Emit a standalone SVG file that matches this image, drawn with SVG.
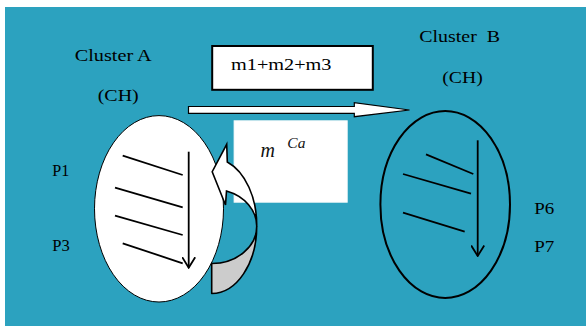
<svg xmlns="http://www.w3.org/2000/svg" width="586" height="326" viewBox="0 0 586 326">
<style>
.t{font-family:"Liberation Serif","Times New Roman",serif;font-size:17px;fill:#000}
.i{font-family:"Liberation Serif","Times New Roman",serif;font-style:italic;fill:#111}
.ln{stroke:#000;stroke-width:1.8;fill:none;stroke-linecap:butt}
</style>
<defs>
<marker id="v" viewBox="0 0 12 14" refX="11" refY="7" markerWidth="12" markerHeight="14" markerUnits="userSpaceOnUse" orient="auto">
<path d="M0.5,0.5 L11,7 L0.5,13.5" fill="none" stroke="#000" stroke-width="1.8"/>
</marker>
</defs>
<rect x="5" y="7" width="581" height="319" fill="#2ca2bf"/>
<g id="label-cluster-a">
<text class="t" x="74.7" y="61" textLength="77" lengthAdjust="spacingAndGlyphs">Cluster A</text>
<text class="t" x="97.7" y="100.5" textLength="41" lengthAdjust="spacingAndGlyphs">(CH)</text>
</g>
<g id="label-cluster-b">
<text class="t" x="419.3" y="41.7" textLength="80.7" lengthAdjust="spacingAndGlyphs" xml:space="preserve">Cluster  B</text>
<text class="t" x="442.3" y="82.5" textLength="40.4" lengthAdjust="spacingAndGlyphs">(CH)</text>
</g>
<g id="labels-p">
<text class="t" x="52.3" y="175.7" textLength="17" lengthAdjust="spacingAndGlyphs">P1</text>
<text class="t" x="52.3" y="250.7" textLength="17.5" lengthAdjust="spacingAndGlyphs">P3</text>
<text class="t" x="534.3" y="214" textLength="20" lengthAdjust="spacingAndGlyphs">P6</text>
<text class="t" x="534.3" y="251.7" textLength="20" lengthAdjust="spacingAndGlyphs">P7</text>
</g>
<g id="message-box">
<rect x="212.2" y="46" width="160.6" height="43.8" fill="#fff" stroke="#000" stroke-width="2"/>
<text class="t" x="231" y="70" textLength="100.5" lengthAdjust="spacingAndGlyphs">m1+m2+m3</text>
</g>
<g id="mca-box">
<rect x="234" y="120.7" width="113.3" height="81.6" fill="#fff" stroke="#e6f2f5" stroke-width="0.8"/>
<text class="i" x="260.5" y="156.7" font-size="20">m</text>
<text class="i" x="287.3" y="147.7" font-size="15.5">Ca</text>
</g>
<g id="cluster-a">
<ellipse cx="159" cy="208.8" rx="64.5" ry="93.2" fill="#fff" stroke="#000" stroke-width="1"/>
<line class="ln" x1="122.7" y1="155.7" x2="182.7" y2="175"/>
<line class="ln" x1="115" y1="187.7" x2="182.7" y2="207.3"/>
<line class="ln" x1="115" y1="215.7" x2="182.7" y2="235"/>
<line class="ln" x1="122.7" y1="243.3" x2="182.7" y2="263.3"/>
<line class="ln" x1="188.7" y1="151.7" x2="188.7" y2="267.7" marker-end="url(#v)"/>
</g>
<g id="cluster-b">
<ellipse cx="445.2" cy="204.5" rx="64.8" ry="93.5" fill="none" stroke="#000" stroke-width="2"/>
<line class="ln" x1="426" y1="154.3" x2="473.3" y2="174"/>
<line class="ln" x1="403" y1="174" x2="471" y2="193.7"/>
<line class="ln" x1="403" y1="212.7" x2="464.7" y2="231.7"/>
<line class="ln" x1="477.7" y1="140.3" x2="477.7" y2="256" marker-end="url(#v)"/>
</g>
<g id="connectors">
<polygon points="188.5,106.5 354.3,106.5 354.3,102.7 409.5,110 354.3,116.7 354.3,113.3 188.5,113.3" fill="#fff" stroke="#000" stroke-width="1.2" stroke-linejoin="miter"/>
<path d="M256.7,226.5 A45,67 0 0 1 211.7,293.5 L211.7,263.5 A45,37 0 0 0 256.7,226.5 Z" fill="#cccccc" stroke="#000" stroke-width="1.6" stroke-linejoin="round"/>
<path d="M227.3,162 A45,67 0 0 1 256.7,226.5 A45,37 0 0 0 226.5,191 L225.5,205 L212.2,171.7 L226.7,144.3 Z" fill="#fff" stroke="#000" stroke-width="1.6" stroke-linejoin="miter"/>
</g>
</svg>
